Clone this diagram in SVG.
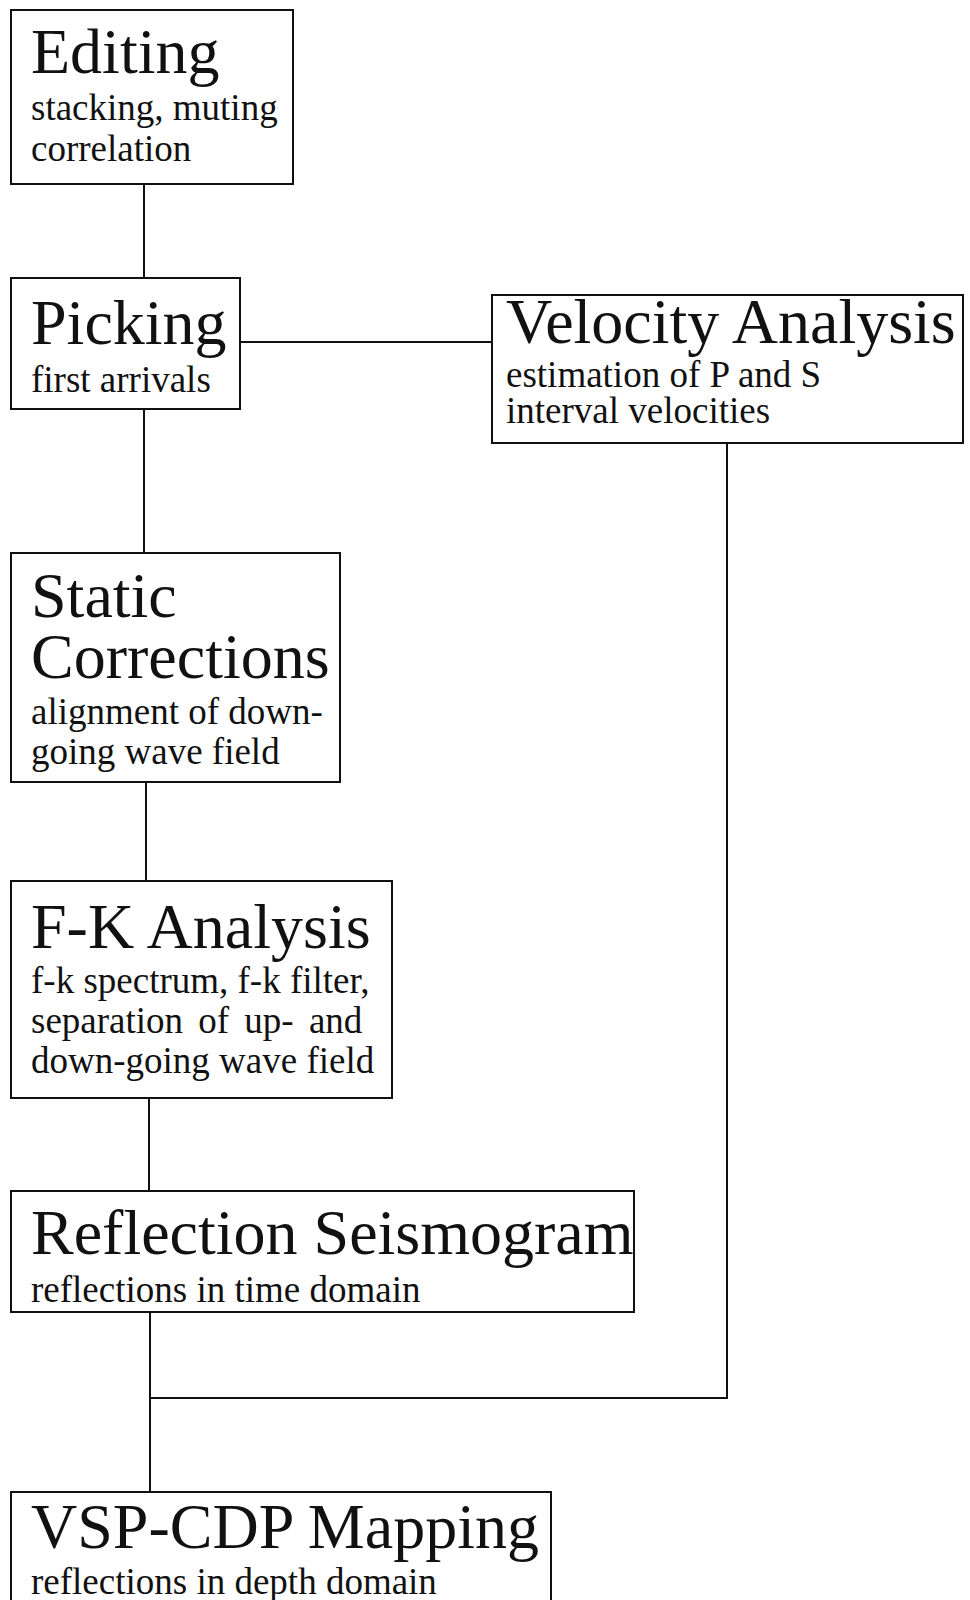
<svg xmlns="http://www.w3.org/2000/svg" width="970" height="1600" viewBox="0 0 970 1600">
<style>
.box{fill:#fff;stroke:#111;stroke-width:2}
.ln{fill:none;stroke:#111;stroke-width:2}
.t{font-family:"Liberation Serif","Times New Roman",serif;font-size:64px;fill:#111}
.s{font-family:"Liberation Serif","Times New Roman",serif;font-size:37px;fill:#111}
</style>
<rect width="970" height="1600" fill="#fff"/>
<g id="connectors">
<line class="ln" x1="144" y1="184" x2="144" y2="278"/>
<line class="ln" x1="240" y1="342" x2="492" y2="342"/>
<line class="ln" x1="144" y1="409" x2="144" y2="553"/>
<line class="ln" x1="146" y1="782" x2="146" y2="881"/>
<line class="ln" x1="149" y1="1098" x2="149" y2="1191"/>
<line class="ln" x1="150" y1="1312" x2="150" y2="1492"/>
<polyline class="ln" points="727,444 727,1398 150,1398"/>
</g>
<g id="editing">
<rect class="box" x="11" y="10" width="282" height="174"/>
<text class="t" x="31" y="73">Editing</text>
<text class="s" x="31" y="120">stacking, muting</text>
<text class="s" x="31" y="161">correlation</text>
</g>
<g id="picking">
<rect class="box" x="11" y="278" width="229" height="131"/>
<text class="t" x="31" y="344">Picking</text>
<text class="s" x="31" y="392">first arrivals</text>
</g>
<g id="velocity">
<rect class="box" x="492" y="295" width="471" height="148"/>
<text class="t" x="506" y="343">Velocity Analysis</text>
<text class="s" x="506" y="387">estimation of P and S</text>
<text class="s" x="506" y="423">interval velocities</text>
</g>
<g id="static">
<rect class="box" x="11" y="553" width="329" height="229"/>
<text class="t" x="31" y="617">Static</text>
<text class="t" x="31" y="678">Corrections</text>
<text class="s" x="31" y="724">alignment of down-</text>
<text class="s" x="31" y="764">going wave field</text>
</g>
<g id="fk">
<rect class="box" x="11" y="881" width="381" height="217"/>
<text class="t" x="31" y="948">F-K Analysis</text>
<text class="s" x="31" y="993">f-k spectrum, f-k filter,</text>
<text class="s" x="31" y="1033" word-spacing="6">separation of up- and</text>
<text class="s" x="31" y="1073">down-going wave field</text>
</g>
<g id="reflection">
<rect class="box" x="11" y="1191" width="623" height="121"/>
<text class="t" x="31" y="1254">Reflection Seismogram</text>
<text class="s" x="31" y="1302">reflections in time domain</text>
</g>
<g id="vsp">
<rect class="box" x="11" y="1492" width="540" height="120"/>
<text class="t" x="31" y="1548">VSP-CDP Mapping</text>
<text class="s" x="31" y="1594">reflections in depth domain</text>
</g>
</svg>
